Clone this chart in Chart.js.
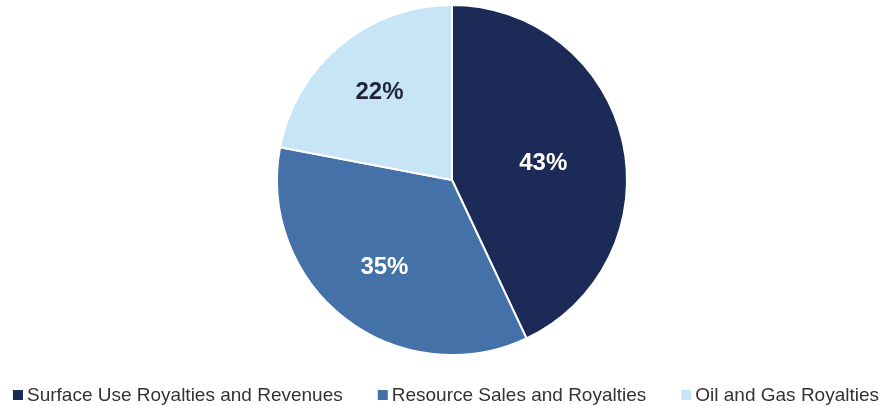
<!DOCTYPE html>
<html>
<head>
<meta charset="utf-8">
<script src="https://cdn.jsdelivr.net/npm/chart.js@4"></script>
<style>
  html, body { margin: 0; padding: 0; background: #fff; }
  #wrap { width: 883px; height: 406px; }
</style>
</head>
<body>
<div id="wrap"><canvas id="pieChart" width="883" height="406"></canvas></div>
<script>
// Revenue mix by source (percent)
const categories = ["Surface Use Royalties and Revenues", "Resource Sales and Royalties", "Oil and Gas Royalties"];
const shares = [43, 35, 22];
const sliceColors = ["#1b2a57", "#4571a9", "#c8e4f7"];
const labelColors = ["#ffffff", "#ffffff", "#1e2636"];
const labelDistance = [0.53, 0.63, 0.65]; // fraction of radius where the % label sits

const FONT = '"Liberation Sans", Arial, sans-serif';

// Draw the percentage labels inside each slice
const sliceLabels = {
  id: 'sliceLabels',
  afterDatasetsDraw(chart) {
    const ctx = chart.ctx;
    const meta = chart.getDatasetMeta(0);
    ctx.save();
    ctx.font = 'bold 24px ' + FONT;
    ctx.textAlign = 'center';
    ctx.textBaseline = 'middle';
    meta.data.forEach((arc, i) => {
      const mid = (arc.startAngle + arc.endAngle) / 2 + (i === 0 ? 0.04 : 0);
      const r = arc.outerRadius * labelDistance[i];
      ctx.fillStyle = labelColors[i];
      ctx.fillText(shares[i] + '%', arc.x + Math.cos(mid) * r, arc.y + Math.sin(mid) * r);
    });
    ctx.restore();
  }
};

// Single-row legend under the pie (built-in one wraps at this width)
const bottomLegend = {
  id: 'bottomLegend',
  afterDraw(chart) {
    const ctx = chart.ctx;
    const box = 10, gap = 4, spacing = 35;
    const midY = 395;
    ctx.save();
    ctx.font = '19px ' + FONT;
    ctx.textBaseline = 'middle';
    const widths = categories.map(c => ctx.measureText(c).width);
    const total = widths.reduce((a, w) => a + box + gap + w, 0) + spacing * (categories.length - 1);
    let x = 446 - total / 2;
    categories.forEach((c, i) => {
      ctx.fillStyle = sliceColors[i];
      ctx.fillRect(x, midY - box / 2, box, box);
      ctx.fillStyle = '#333333';
      ctx.fillText(c, x + box + gap, midY + 1);
      x += box + gap + widths[i] + spacing;
    });
    ctx.restore();
  }
};

new Chart(document.getElementById('pieChart').getContext('2d'), {
  type: 'pie',
  data: {
    labels: categories,
    datasets: [{
      data: shares,
      backgroundColor: sliceColors,
      borderColor: '#ffffff',
      borderWidth: 2
    }]
  },
  options: {
    responsive: false,
    animation: false,
    layout: { padding: { top: 4, left: 21, bottom: 50 } },
    plugins: {
      tooltip: { enabled: false },
      legend: { display: false }
    }
  },
  plugins: [sliceLabels, bottomLegend]
});
</script>
</body>
</html>
